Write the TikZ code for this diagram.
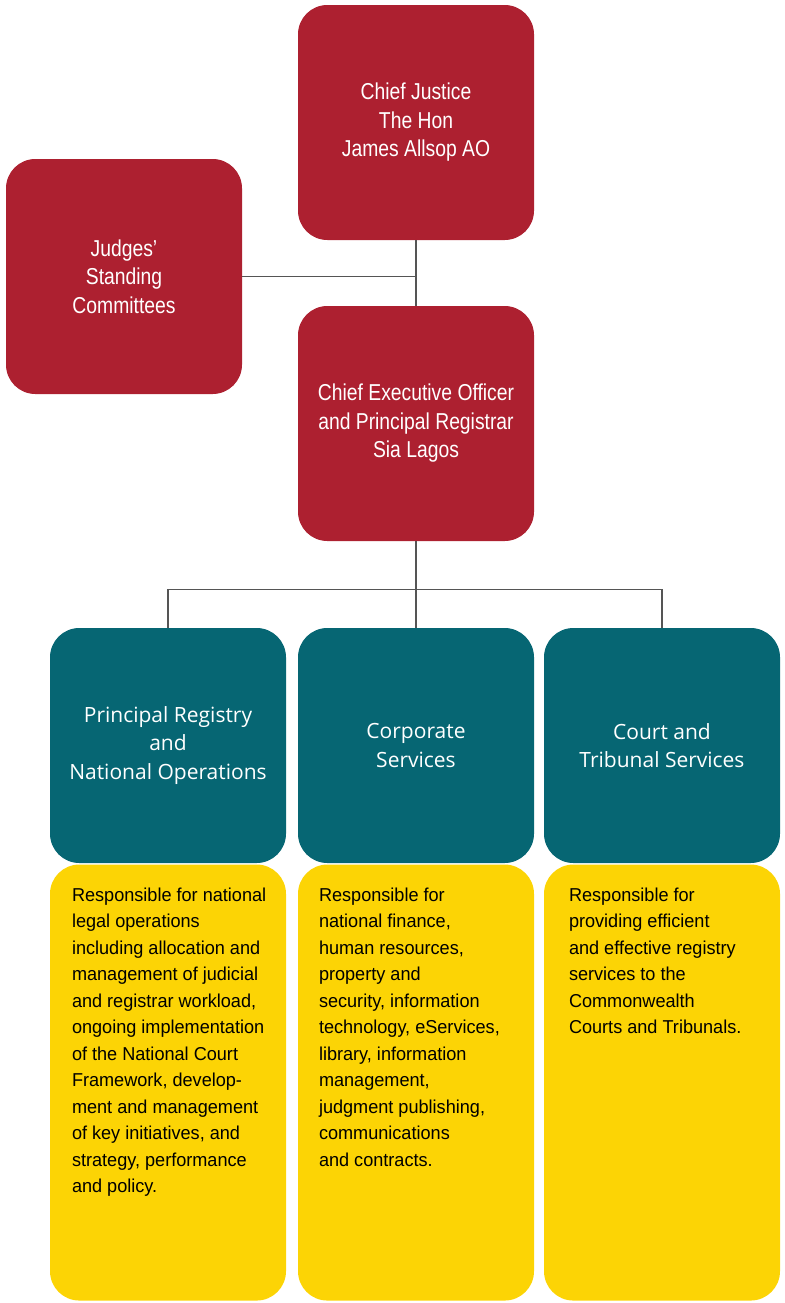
\documentclass[tikz,border=0pt]{standalone}
\usepackage{fontspec}
\usetikzlibrary{positioning}
\newfontfamily\headfont[FakeStretch=0.84]{Liberation Sans}
\newfontfamily\descfont[FakeStretch=0.97]{Liberation Sans}
\newfontfamily\unitfont{Open Sans}
\definecolor{CourtRed}{HTML}{AD2030}
\definecolor{CourtTeal}{HTML}{066673}
\definecolor{CourtYellow}{HTML}{FCD405}
\definecolor{LinkGrey}{HTML}{555555}
\begin{document}
\begin{tikzpicture}[x=0.75pt,y=-0.75pt,level distance=241.5pt,sibling distance=184.5pt,
        edge from parent/.style={draw=LinkGrey,line width=1.1pt},
        edge from parent path={(\tikzparentnode.south) -- +(0,48) -| (\tikzchildnode.north)}]
      \tikzstyle{office} = [rectangle,rounded corners=22pt,fill=CourtRed,text=white,
        minimum width=177pt,minimum height=176.25pt,inner sep=0pt,align=center,
        font=\headfont\fontsize{17.25}{21.4}\selectfont]
      \tikzstyle{unit} = [office,fill=CourtTeal,font=\unitfont\fontsize{15.75}{21.4}\selectfont]
      \tikzstyle{info} = [rectangle,rounded corners=22pt,fill=CourtYellow,
        minimum width=177pt,minimum height=327pt,inner sep=0pt]
      \tikzstyle{infotext} = [anchor=north west,inner sep=0pt,align=left,text=black,
        font=\descfont\fontsize{14}{19.9}\selectfont]
      \tikzstyle{link} = [draw=LinkGrey,line width=1.1pt]
      \useasboundingbox (0,0) rectangle (785,1303);
      \node (cj) [office] at (416,122.5) {Chief Justice\\The Hon\\James Allsop AO};
      \node (judges) [office] at (124,276.5) {Judges’\\Standing\\Committees};
      \node (ceo) [office] at (416,423.5) {Chief Executive Officer\\and Principal Registrar\\Sia Lagos}
        child[xshift=-1.5pt] {node (pr) [unit] {Principal Registry\\and\\National Operations}}
        child {node (corp) [unit] {Corporate\\Services}}
        child {node (cts) [unit] {Court and\\Tribunal Services}};
      \draw[link] (cj) -- (ceo);
      \draw[link] (judges.east) -- (judges.east -| cj.south);
      % descriptions
      \node (prinfo) [info,below=0.75pt of pr] {};
      \node (corpinfo) [info,below=0.75pt of corp] {};
      \node (ctsinfo) [info,below=0.75pt of cts] {};
      \node (prtext) [infotext] at ([xshift=16.5pt,yshift=-17.25pt]prinfo.north west)
        {Responsible for national\\legal operations\\including allocation and\\management of judicial\\and registrar workload,\\ongoing implementation\\of the National Court\\Framework, develop-\\ment and management\\of key initiatives, and\\strategy, performance\\and policy.};
      \node (corptext) [infotext] at ([xshift=15.75pt,yshift=-17.25pt]corpinfo.north west)
        {Responsible for\\national finance,\\human resources,\\property and\\security, information\\technology, eServices,\\library, information\\management,\\judgment publishing,\\communications\\and contracts.};
      \node (ctstext) [infotext] at ([xshift=18.75pt,yshift=-17.25pt]ctsinfo.north west)
        {Responsible for\\providing efficient\\and effective registry\\services to the\\Commonwealth\\Courts and Tribunals.};
    \end{tikzpicture}
\end{document}
